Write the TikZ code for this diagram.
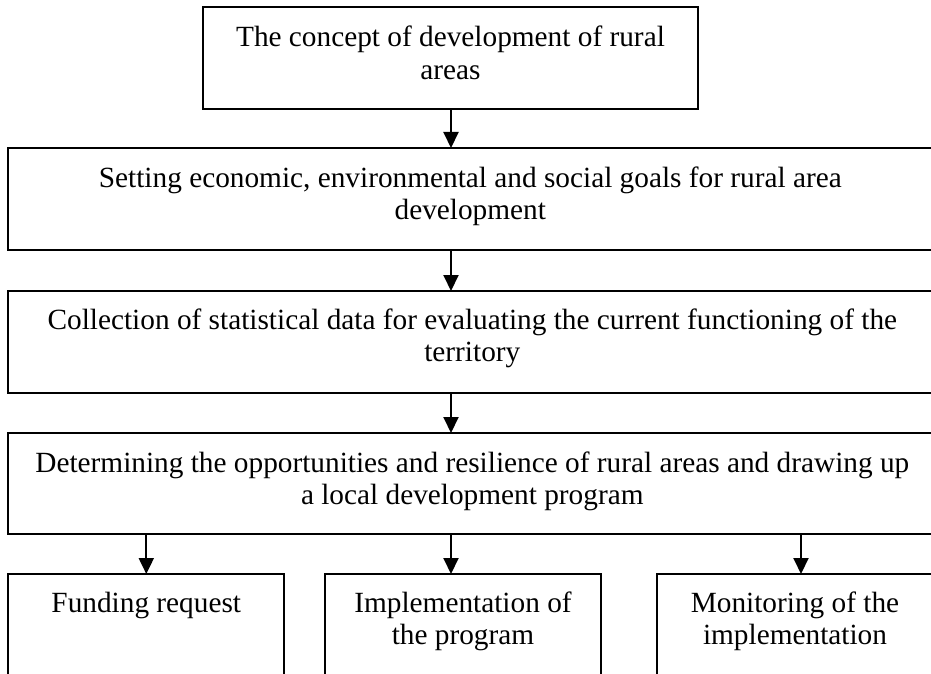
\documentclass[tikz,border=0pt]{standalone}
\usepackage{fontspec}
\setmainfont{Liberation Serif}
\usetikzlibrary{arrows.meta,calc}
\begin{document}
\begin{tikzpicture}[x=1pt,y=-1pt,
  box/.style={draw,line width=2pt,inner sep=0pt,outer sep=0pt,anchor=north west},
  txt/.style={font=\fontsize{29.3}{32.5}\selectfont,align=flush center,text width=920pt,inner sep=0pt,anchor=base},
  arr/.style={line width=2pt,-{Triangle[length=16pt,width=15pt]}}]
\useasboundingbox (0,0) rectangle (931,674);
\clip (0,0) rectangle (931,674);
\node[box,minimum width=495pt,minimum height=102pt] (b1) at (203,7) {};
\node[box,minimum width=924pt,minimum height=102pt] (b2) at (8.3,148) {};
\node[box,minimum width=928pt,minimum height=102pt] (b3) at (8.3,291) {};
\node[box,minimum width=928pt,minimum height=101pt] (b4) at (8.3,433) {};
\node[box,minimum width=276pt,minimum height=130pt] (f1) at (8.3,574) {};
\node[box,minimum width=276pt,minimum height=130pt] (f2) at (325,574) {};
\node[box,minimum width=276pt,minimum height=130pt] (f3) at (657,574) {};
\node[txt] (t1) at ($(b1.north)+(0,40)$) {The concept of development of rural\\areas};
\node[txt] (t2) at ($(b2.north)+(0,39)$) {Setting economic, environmental and social goals for rural area\\development};
\node[txt] (t3) at ($(b3.north)+(0,38)$) {Collection of statistical data for evaluating the current functioning of the\\territory};
\node[txt] (t4) at ($(b4.north)+(0,39)$) {Determining the opportunities and resilience of rural areas and drawing up\\a local development program};
\node[txt] (t5) at ($(f1.north)+(0,38)$) {Funding request};
\node[txt] (t6) at ($(f2.north)+(0,38)$) {Implementation of\\the program};
\node[txt] (t7) at ($(f3.north)+(0,38)$) {Monitoring of the\\implementation};
\coordinate (ac) at (451,0);
\coordinate (ar) at (801,0);
\draw[arr] (ac |- b1.south) -- (ac |- b2.north);
\draw[arr] (ac |- b2.south) -- (ac |- b3.north);
\draw[arr] (ac |- b3.south) -- (ac |- b4.north);
\draw[arr] (f1.north |- b4.south) -- (f1.north);
\draw[arr] (ac |- b4.south) -- (ac |- f2.north);
\draw[arr] (ar |- b4.south) -- (ar |- f3.north);
\end{tikzpicture}
\end{document}
